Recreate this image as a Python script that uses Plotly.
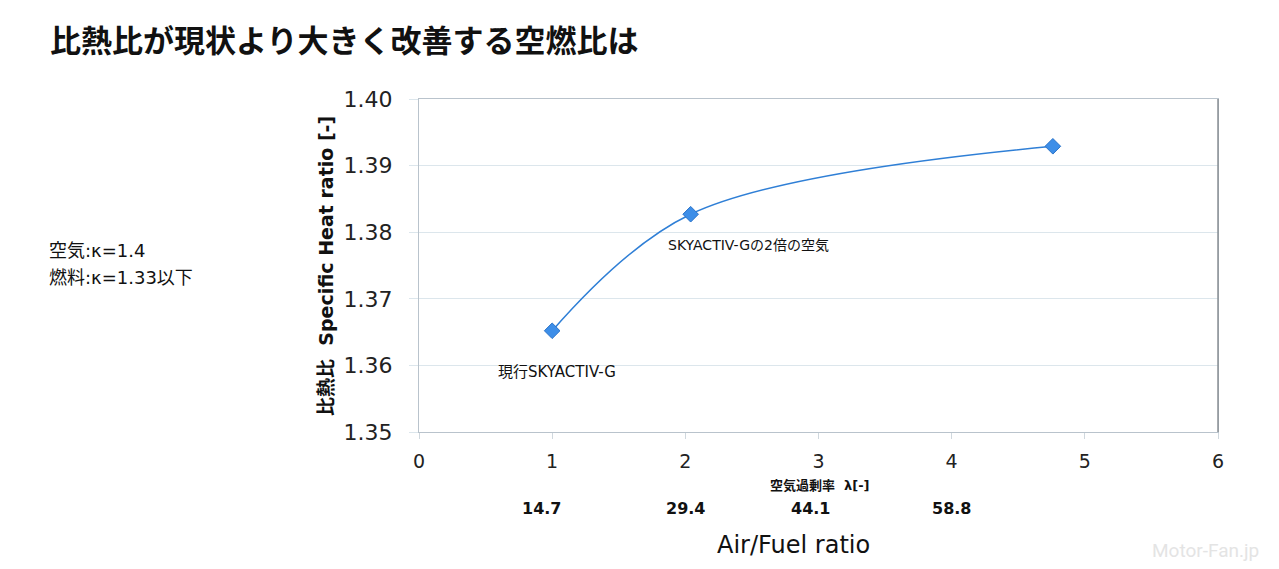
import plotly.graph_objects as go

# data
lam = [1.0, 2.04, 4.76]
kappa = [1.3652, 1.3827, 1.3929]
point_labels = ["現行SKYACTIV-G", "SKYACTIV-Gの2倍の空気"]
afr_lambda = [0.92, 2.0, 2.94, 4.0]
afr_labels = ["14.7", "29.4", "44.1", "58.8"]
x_ticks = [0, 1, 2, 3, 4, 5, 6]
y_ticks = [1.35, 1.36, 1.37, 1.38, 1.39, 1.40]
side_notes = ["空気:κ=1.4", "燃料:κ=1.33以下"]

JP = "Noto Sans CJK JP"
LAT = "DejaVu Sans"
MIX = "DejaVu Sans, Noto Sans CJK JP"
BLUE = "#2f7fd6"
L, R, T, B = 419, 1218, 99, 432
W, H = R - L, B - T


def px(x):
    return (x - L) / W


def py(y):
    return (B - y) / H


fig = go.Figure()
fig.add_trace(go.Scatter(
    x=lam, y=kappa, mode="lines+markers",
    line=dict(color=BLUE, width=1.5, shape="spline", smoothing=1.0),
    marker=dict(symbol="diamond", size=12, color="#3d8ee8", line=dict(color="#2a73c9", width=1)),
    showlegend=False, hoverinfo="x+y"))

fig.update_layout(
    width=1279, height=569,
    margin=dict(l=L, r=1279 - R, t=T, b=569 - B),
    paper_bgcolor="white", plot_bgcolor="white",
    font=dict(family=LAT, color="#111"),
    xaxis=dict(range=[0, 6], tickvals=x_ticks, showgrid=False, zeroline=False,
               showline=True, linecolor="#b9c3cc", linewidth=1, mirror=True,
               ticks="outside", ticklen=6, tickcolor="#d0d8de",
               tickfont=dict(family=LAT, size=19, color="#222"), ticklabelstandoff=6),
    yaxis=dict(range=[1.35, 1.40], tickvals=y_ticks, tickformat=".2f",
               showgrid=True, gridcolor="#dce6ec", gridwidth=1, zeroline=False,
               showline=True, linecolor="#b9c3cc", linewidth=1, mirror=True,
               ticks="outside", ticklen=9, tickcolor="#dce6ec",
               tickfont=dict(family=LAT, size=22, color="#222"), ticklabelstandoff=12),
)

# right border darker
fig.add_shape(type="line", xref="paper", yref="paper", x0=1, x1=1, y0=0, y1=1,
              line=dict(color="#8a8f94", width=1.5))

ann = []
ann.append(dict(text="比熱比が現状より大きく改善する空燃比は", xref="paper", yref="paper",
                x=px(48), y=py(38), xanchor="left", yanchor="middle",
                showarrow=False, font=dict(family=JP, size=31, color="#111", weight="bold")))
ann.append(dict(text="比熱比  Specific Heat ratio [-]", xref="paper", yref="paper",
                x=px(326), y=py(266), textangle=-90, xanchor="center", yanchor="middle",
                showarrow=False, font=dict(family=MIX, size=19, color="#111", weight="bold")))
for i, t in enumerate(side_notes):
    ann.append(dict(text=t, xref="paper", yref="paper",
                    x=px(47), y=py(250 + 27 * i), xanchor="left", yanchor="middle",
                    showarrow=False, font=dict(family=MIX, size=18, color="#111")))
ann.append(dict(text=point_labels[0], x=lam[0], y=kappa[0], xref="x", yref="y",
                showarrow=False, xanchor="center", yanchor="middle", xshift=5, yshift=-41,
                font=dict(family=MIX, size=15, color="#111")))
ann.append(dict(text=point_labels[1], x=lam[1], y=kappa[1], xref="x", yref="y",
                showarrow=False, xanchor="left", yanchor="middle", xshift=-25, yshift=-31,
                font=dict(family=MIX, size=14, color="#111")))
ann.append(dict(text="<b>空気過剰率  λ[-]</b>", xref="paper", yref="paper",
                x=px(820), y=py(485), xanchor="center", yanchor="middle",
                showarrow=False, font=dict(family=MIX, size=13, color="#111")))
for lv, lab in zip(afr_lambda, afr_labels):
    ann.append(dict(text="<b>" + lab + "</b>", x=lv, xref="x", yref="paper",
                    y=py(508), xanchor="center", yanchor="middle",
                    showarrow=False, font=dict(family=LAT, size=16, color="#111")))
ann.append(dict(text="Air/Fuel ratio", xref="paper", yref="paper",
                x=px(793), y=py(545), xanchor="center", yanchor="middle",
                showarrow=False, font=dict(family=LAT, size=24, color="#111")))
ann.append(dict(text="Motor-Fan.jp", xref="paper", yref="paper",
                x=px(1205), y=py(550), xanchor="center", yanchor="middle",
                showarrow=False, font=dict(family="Roboto", size=19, color="#e4e4e4")))
fig.update_layout(annotations=ann)

fig.write_html("out.html", config={"displayModeBar": False},
               post_script="document.body.style.margin='0';")
